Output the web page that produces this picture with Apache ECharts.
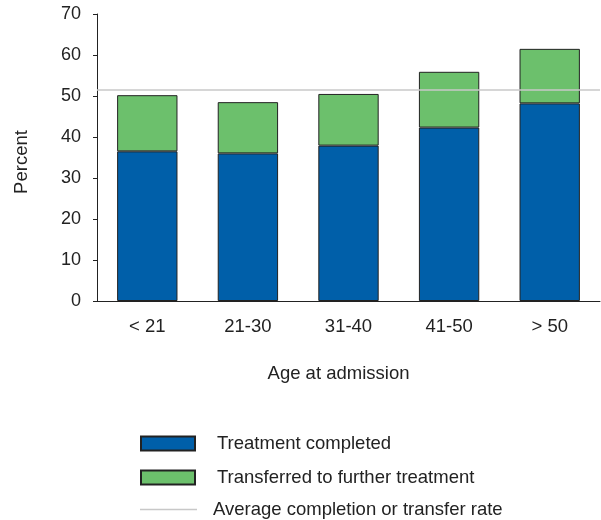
<!DOCTYPE html>
<html>
<head>
<meta charset="utf-8">
<script src="https://cdn.jsdelivr.net/npm/echarts@6/dist/echarts.min.js"></script>
<style>
  html, body { margin: 0; padding: 0; background: #fff; }
  #chart { width: 601px; height: 520px; }
</style>
</head>
<body>
<div id="chart"></div>
<script>
// Age groups at admission
const categories = ['< 21', '21-30', '31-40', '41-50', '> 50'];
// Percent of episodes where treatment was completed
const completed = [36.5, 36.0, 37.9, 42.3, 48.2];
// Percent of episodes transferred to further treatment
const transferred = [13.7, 12.5, 12.6, 13.6, 13.3];
// Average completion or transfer rate across all ages
const averageRate = 51.6;
// Y axis ticks
const yTicks = { min: 0, max: 70, interval: 10 };

const seriesNames = ['Treatment completed', 'Transferred to further treatment', 'Average completion or transfer rate'];

const font = '"Liberation Sans", Arial, sans-serif';
const textColor = '#222';
const fs = 18.5;

const chart = echarts.init(document.getElementById('chart'), null, { renderer: 'canvas' });

const legendBase = {
  left: 140,
  padding: 0,
  orient: 'vertical',
  itemWidth: 54,
  itemHeight: 14,
  icon: 'rect',
  selectedMode: false,
  textStyle: { fontFamily: font, fontSize: fs, color: textColor, padding: [0, 0, 0, 17] }
};

chart.setOption({
  animation: false,
  backgroundColor: '#fff',
  grid: { left: 97, right: 1, top: 14, bottom: 219, containLabel: false },
  legend: [
    Object.assign({}, legendBase, { top: 434, data: [seriesNames[0]] }),
    Object.assign({}, legendBase, { top: 468, data: [seriesNames[1]] }),
    Object.assign({}, legendBase, {
      top: 500, itemWidth: 57, itemHeight: 1.5,
      textStyle: Object.assign({}, legendBase.textStyle, { padding: [0, 0, 0, 11] }),
      data: [seriesNames[2]]
    })
  ],
  xAxis: {
    type: 'category',
    data: categories,
    name: 'Age at admission',
    nameLocation: 'middle',
    nameGap: 63,
    nameTextStyle: { fontFamily: font, fontSize: fs, color: textColor, padding: [0, 20, 0, 0] },
    axisLine: { lineStyle: { color: '#222', width: 1 } },
    axisTick: { show: false },
    axisLabel: { fontFamily: font, fontSize: fs, color: textColor, margin: 16 }
  },
  yAxis: {
    type: 'value',
    min: yTicks.min,
    max: yTicks.max,
    interval: yTicks.interval,
    name: 'Percent',
    nameLocation: 'middle',
    nameRotate: 90,
    nameGap: 66,
    nameTextStyle: { fontFamily: font, fontSize: fs, color: textColor, padding: [0, 9, 0, 0] },
    axisLine: { show: true, lineStyle: { color: '#222', width: 1 } },
    axisTick: { show: true, length: 4, lineStyle: { color: '#222' } },
    axisLabel: { fontFamily: font, fontSize: 18, color: textColor, margin: 16 },
    splitLine: { show: false }
  },
  series: [
    {
      name: seriesNames[0],
      type: 'bar',
      stack: 'total',
      barWidth: '60%',
      data: completed,
      itemStyle: { color: '#005FA9', borderColor: '#222', borderWidth: 1 }
    },
    {
      name: seriesNames[1],
      type: 'bar',
      stack: 'total',
      barWidth: '60%',
      data: transferred,
      itemStyle: { color: '#6CC06C', borderColor: '#222', borderWidth: 1 }
    },
    {
      name: seriesNames[2],
      type: 'line',
      data: [],
      itemStyle: { color: '#c8c8c8' },
      lineStyle: { color: '#c8c8c8' },
      markLine: {
        silent: true,
        symbol: 'none',
        label: { show: false },
        lineStyle: { color: '#c8c8c8', width: 1.5, type: 'solid' },
        data: [{ yAxis: averageRate }]
      },
      z: 1
    }
  ]
});
</script>
</body>
</html>
